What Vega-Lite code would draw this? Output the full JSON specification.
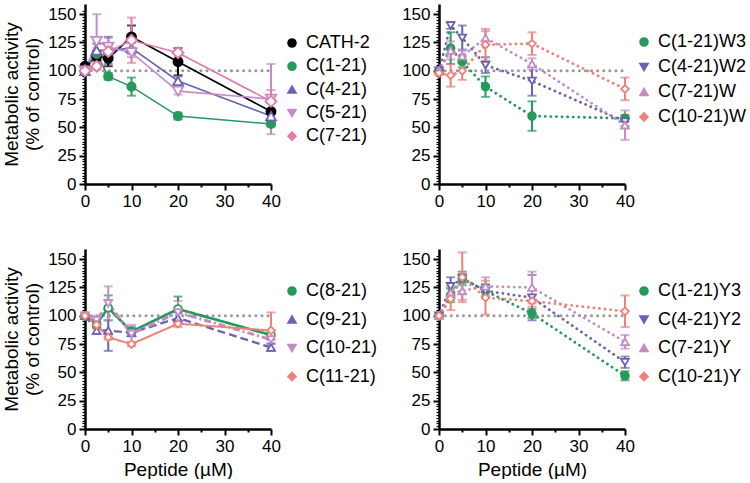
{
  "$schema": "https://vega.github.io/schema/vega-lite/v6.json",
  "padding": {"left": 2, "top": 2, "right": 0, "bottom": 0},
  "background": "white",
  "datasets": {
    "ref": [{"x": 0, "y": 100}, {"x": 40, "y": 100}],
    "d": [
      {"p":1,"s":"CATH-2","x":0,"y":104,"e":2},{"p":1,"s":"CATH-2","x":2.5,"y":113,"e":4},{"p":1,"s":"CATH-2","x":5,"y":111,"e":7},{"p":1,"s":"CATH-2","x":10,"y":130,"e":10},{"p":1,"s":"CATH-2","x":20,"y":108,"e":12},{"p":1,"s":"CATH-2","x":40,"y":64,"e":8},
      {"p":1,"s":"C(1-21)","x":0,"y":100,"e":1},{"p":1,"s":"C(1-21)","x":2.5,"y":115,"e":13},{"p":1,"s":"C(1-21)","x":5,"y":95,"e":3},{"p":1,"s":"C(1-21)","x":10,"y":86,"e":8},{"p":1,"s":"C(1-21)","x":20,"y":60,"e":3},{"p":1,"s":"C(1-21)","x":40,"y":53,"e":2},
      {"p":1,"s":"C(4-21)","x":0,"y":100,"e":1},{"p":1,"s":"C(4-21)","x":2.5,"y":118,"e":6},{"p":1,"s":"C(4-21)","x":5,"y":118,"e":12},{"p":1,"s":"C(4-21)","x":10,"y":120,"e":5},{"p":1,"s":"C(4-21)","x":20,"y":91,"e":4},{"p":1,"s":"C(4-21)","x":40,"y":60,"e":4},
      {"p":1,"s":"C(5-21)","x":0,"y":100,"e":1},{"p":1,"s":"C(5-21)","x":2.5,"y":126,"e":24},{"p":1,"s":"C(5-21)","x":5,"y":121,"e":8},{"p":1,"s":"C(5-21)","x":10,"y":116,"e":4},{"p":1,"s":"C(5-21)","x":20,"y":82,"e":3},{"p":1,"s":"C(5-21)","x":40,"y":75,"e":31},
      {"p":1,"s":"C(7-21)","x":0,"y":100,"e":1},{"p":1,"s":"C(7-21)","x":2.5,"y":104,"e":3},{"p":1,"s":"C(7-21)","x":5,"y":117,"e":5},{"p":1,"s":"C(7-21)","x":10,"y":127,"e":20},{"p":1,"s":"C(7-21)","x":20,"y":116,"e":4},{"p":1,"s":"C(7-21)","x":40,"y":73,"e":10},

      {"p":2,"s":"C(1-21)W3","x":0,"y":100,"e":1},{"p":2,"s":"C(1-21)W3","x":2.5,"y":120,"e":14},{"p":2,"s":"C(1-21)W3","x":5,"y":108,"e":5},{"p":2,"s":"C(1-21)W3","x":10,"y":86,"e":9},{"p":2,"s":"C(1-21)W3","x":20,"y":60,"e":13},{"p":2,"s":"C(1-21)W3","x":40,"y":58,"e":3},
      {"p":2,"s":"C(4-21)W2","x":0,"y":100,"e":1},{"p":2,"s":"C(4-21)W2","x":2.5,"y":140,"e":3},{"p":2,"s":"C(4-21)W2","x":5,"y":129,"e":11},{"p":2,"s":"C(4-21)W2","x":10,"y":105,"e":7},{"p":2,"s":"C(4-21)W2","x":20,"y":91,"e":13},{"p":2,"s":"C(4-21)W2","x":40,"y":55,"e":4},
      {"p":2,"s":"C(7-21)W","x":0,"y":100,"e":1},{"p":2,"s":"C(7-21)W","x":2.5,"y":118,"e":8},{"p":2,"s":"C(7-21)W","x":5,"y":113,"e":6},{"p":2,"s":"C(7-21)W","x":10,"y":129,"e":6},{"p":2,"s":"C(7-21)W","x":20,"y":106,"e":5},{"p":2,"s":"C(7-21)W","x":40,"y":52,"e":13},
      {"p":2,"s":"C(10-21)W","x":0,"y":98,"e":2},{"p":2,"s":"C(10-21)W","x":2.5,"y":96,"e":10},{"p":2,"s":"C(10-21)W","x":5,"y":100,"e":8},{"p":2,"s":"C(10-21)W","x":10,"y":123,"e":14},{"p":2,"s":"C(10-21)W","x":20,"y":124,"e":10},{"p":2,"s":"C(10-21)W","x":40,"y":84,"e":10},

      {"p":3,"s":"C(8-21)","x":0,"y":100,"e":1},{"p":3,"s":"C(8-21)","x":2.5,"y":93,"e":4},{"p":3,"s":"C(8-21)","x":5,"y":107,"e":11},{"p":3,"s":"C(8-21)","x":10,"y":86,"e":4},{"p":3,"s":"C(8-21)","x":20,"y":106,"e":11},{"p":3,"s":"C(8-21)","x":40,"y":83,"e":4},
      {"p":3,"s":"C(9-21)","x":0,"y":100,"e":1},{"p":3,"s":"C(9-21)","x":2.5,"y":87,"e":3},{"p":3,"s":"C(9-21)","x":5,"y":87,"e":18},{"p":3,"s":"C(9-21)","x":10,"y":85,"e":3},{"p":3,"s":"C(9-21)","x":20,"y":98,"e":5},{"p":3,"s":"C(9-21)","x":40,"y":72,"e":3},
      {"p":3,"s":"C(10-21)","x":0,"y":100,"e":1},{"p":3,"s":"C(10-21)","x":2.5,"y":96,"e":4},{"p":3,"s":"C(10-21)","x":5,"y":111,"e":15},{"p":3,"s":"C(10-21)","x":10,"y":84,"e":8},{"p":3,"s":"C(10-21)","x":20,"y":103,"e":10},{"p":3,"s":"C(10-21)","x":40,"y":79,"e":3},
      {"p":3,"s":"C(11-21)","x":0,"y":100,"e":1},{"p":3,"s":"C(11-21)","x":2.5,"y":92,"e":3},{"p":3,"s":"C(11-21)","x":5,"y":81,"e":2},{"p":3,"s":"C(11-21)","x":10,"y":75,"e":2},{"p":3,"s":"C(11-21)","x":20,"y":93,"e":3},{"p":3,"s":"C(11-21)","x":40,"y":87,"e":16},

      {"p":4,"s":"C(1-21)Y3","x":0,"y":100,"e":1},{"p":4,"s":"C(1-21)Y3","x":2.5,"y":118,"e":6},{"p":4,"s":"C(1-21)Y3","x":5,"y":133,"e":6},{"p":4,"s":"C(1-21)Y3","x":10,"y":122,"e":6},{"p":4,"s":"C(1-21)Y3","x":20,"y":102,"e":4},{"p":4,"s":"C(1-21)Y3","x":40,"y":47,"e":4},
      {"p":4,"s":"C(4-21)Y2","x":0,"y":100,"e":1},{"p":4,"s":"C(4-21)Y2","x":2.5,"y":126,"e":8},{"p":4,"s":"C(4-21)Y2","x":5,"y":133,"e":4},{"p":4,"s":"C(4-21)Y2","x":10,"y":122,"e":5},{"p":4,"s":"C(4-21)Y2","x":20,"y":116,"e":20},{"p":4,"s":"C(4-21)Y2","x":40,"y":59,"e":5},
      {"p":4,"s":"C(7-21)Y","x":0,"y":100,"e":1},{"p":4,"s":"C(7-21)Y","x":2.5,"y":120,"e":6},{"p":4,"s":"C(7-21)Y","x":5,"y":122,"e":8},{"p":4,"s":"C(7-21)Y","x":10,"y":126,"e":8},{"p":4,"s":"C(7-21)Y","x":20,"y":125,"e":14},{"p":4,"s":"C(7-21)Y","x":40,"y":77,"e":6},
      {"p":4,"s":"C(10-21)Y","x":0,"y":100,"e":1},{"p":4,"s":"C(10-21)Y","x":2.5,"y":115,"e":10},{"p":4,"s":"C(10-21)Y","x":5,"y":134,"e":22},{"p":4,"s":"C(10-21)Y","x":10,"y":116,"e":15},{"p":4,"s":"C(10-21)Y","x":20,"y":113,"e":5},{"p":4,"s":"C(10-21)Y","x":40,"y":104,"e":14}
    ]
  },
  "columns": 2,
  "spacing": {"row": 65, "column": 168},
  "bounds": "flush",
  "resolve": {"scale": {"x": "independent", "y": "independent", "color": "independent", "fill": "independent", "shape": "independent", "size": "independent", "strokeDash": "independent", "strokeWidth": "independent"}, "legend": {"color": "independent", "fill": "independent", "shape": "independent", "size": "independent", "strokeDash": "independent", "strokeWidth": "independent"}},
  "concat": [
    {
      "width": 186, "height": 180,
      "encoding": {
        "x": {"field": "x", "type": "quantitative", "title": null, "scale": {"domain": [0, 40], "nice": false, "zero": false}, "axis": {"title": null, "values": [0,5,10,15,20,25,30,35,40], "labelExpr": "datum.value % 10 === 0 ? datum.label : ''", "tickSize": {"condition": {"test": "datum.value % 10 === 0", "value": 6}, "value": 3}, "labelPadding": 3, "labelFlush": false, "labelOverlap": false}},
        "y": {"field": "y", "type": "quantitative", "title": ["Metabolic activity", "(% of control)"], "scale": {"domain": [0, 159], "nice": false}, "axis": {"title": ["Metabolic activity", "(% of control)"], "values": [0,2.5,5,7.5,10,12.5,15,17.5,20,22.5,25,27.5,30,32.5,35,37.5,40,42.5,45,47.5,50,52.5,55,57.5,60,62.5,65,67.5,70,72.5,75,77.5,80,82.5,85,87.5,90,92.5,95,97.5,100,102.5,105,107.5,110,112.5,115,117.5,120,122.5,125,127.5,130,132.5,135,137.5,140,142.5,145,147.5,150,152.5], "labelExpr": "datum.value % 25 === 0 ? datum.label : ''", "labelOverlap": false, "tickSize": {"condition": {"test": "datum.value % 25 === 0", "value": 6}, "value": 3}, "tickWidth": {"condition": {"test": "datum.value % 25 === 0", "value": 2}, "value": 1.2}, "labelPadding": 3, "titlePadding": 5}}
      },
      "layer": [
        {"data": {"name": "ref"}, "mark": {"type": "line", "color": "#9a9a9a", "strokeWidth": 3, "strokeDash": [0.1, 6], "strokeCap": "round"}},
        {"data": {"name": "d"}, "transform": [{"filter": "datum.p == 1"}], "mark": {"type": "line", "strokeWidth": 1.6},
         "encoding": {"color": {"field": "s", "type": "nominal", "scale": {"domain": ["CATH-2","C(1-21)","C(4-21)","C(5-21)","C(7-21)"], "range": ["#000000","#26995c","#6b62b5","#c48bc6","#e27aab"]}, "legend": {"title": null, "orient": "none", "legendX": 198, "legendY": 30, "rowPadding": 5.3, "labelOffset": 5, "symbolFillColor": "#ffffff", "encode": {"symbols": {"update": {"fill": {"signal": "datum.value === 'CATH-2' ? '#000000' : datum.value === 'C(1-21)' ? '#26995c' : '#ffffff'"}, "opacity": {"value": 1}, "fillOpacity": {"value": 1}}}}}}}},
        {"data": {"name": "d"}, "transform": [{"filter": "datum.p == 1"}], "mark": {"type": "errorbar", "ticks": {"size": 9, "thickness": 2}, "thickness": 2},
         "encoding": {"yError": {"field": "e"}, "color": {"field": "s", "type": "nominal"}}},
        {"data": {"name": "d"}, "transform": [{"filter": "datum.p == 1"}], "mark": {"type": "point", "strokeWidth": 1.8, "opacity": 1},
         "encoding": {
           "size": {"field": "s", "type": "nominal", "scale": {"domain": ["C(1-21)","CATH-2","C(4-21)","C(5-21)","C(7-21)"], "range": [70, 120, 55, 55, 60]}, "legend": null},
           "color": {"field": "s", "type": "nominal"},
           "shape": {"field": "s", "type": "nominal", "scale": {"domain": ["CATH-2","C(1-21)","C(4-21)","C(5-21)","C(7-21)"], "range": ["circle","circle","triangle-up","triangle-down","diamond"]}},
           "fill": {"field": "s", "type": "nominal", "scale": {"domain": ["CATH-2","C(1-21)","C(4-21)","C(5-21)","C(7-21)"], "range": ["#000000","#26995c","#ffffff","#ffffff","#ffffff"]}}}}
      ]
    },
    {
      "width": 186, "height": 180,
      "encoding": {
        "x": {"field": "x", "type": "quantitative", "title": null, "scale": {"domain": [0, 40], "nice": false, "zero": false}, "axis": {"title": null, "values": [0,5,10,15,20,25,30,35,40], "labelExpr": "datum.value % 10 === 0 ? datum.label : ''", "tickSize": {"condition": {"test": "datum.value % 10 === 0", "value": 6}, "value": 3}, "labelPadding": 3, "labelFlush": false, "labelOverlap": false}},
        "y": {"field": "y", "type": "quantitative", "title": null, "scale": {"domain": [0, 159], "nice": false}, "axis": {"title": null, "values": [0,2.5,5,7.5,10,12.5,15,17.5,20,22.5,25,27.5,30,32.5,35,37.5,40,42.5,45,47.5,50,52.5,55,57.5,60,62.5,65,67.5,70,72.5,75,77.5,80,82.5,85,87.5,90,92.5,95,97.5,100,102.5,105,107.5,110,112.5,115,117.5,120,122.5,125,127.5,130,132.5,135,137.5,140,142.5,145,147.5,150,152.5], "labelExpr": "datum.value % 25 === 0 ? datum.label : ''", "labelOverlap": false, "tickSize": {"condition": {"test": "datum.value % 25 === 0", "value": 6}, "value": 3}, "tickWidth": {"condition": {"test": "datum.value % 25 === 0", "value": 2}, "value": 1.2}, "labelPadding": 3}}
      },
      "layer": [
        {"data": {"name": "ref"}, "mark": {"type": "line", "color": "#9a9a9a", "strokeWidth": 3, "strokeDash": [0.1, 6], "strokeCap": "round"}},
        {"data": {"name": "d"}, "transform": [{"filter": "datum.p == 2"}], "mark": {"type": "line", "strokeWidth": 2.8, "strokeDash": [0.1, 5.5], "strokeCap": "round"},
         "encoding": {"color": {"field": "s", "type": "nominal", "scale": {"domain": ["C(1-21)W3","C(4-21)W2","C(7-21)W","C(10-21)W"], "range": ["#26995c","#6b62b5","#c48bc6","#ee8279"]}, "legend": {"title": null, "orient": "none", "legendX": 196, "legendY": 29, "rowPadding": 7, "labelOffset": 5, "symbolFillColor": "#ffffff", "encode": {"symbols": {"update": {"fill": {"signal": "datum.value === 'C(1-21)W3' ? '#26995c' : '#ffffff'"}, "opacity": {"value": 1}, "fillOpacity": {"value": 1}}}}}}}},
        {"data": {"name": "d"}, "transform": [{"filter": "datum.p == 2"}], "mark": {"type": "errorbar", "ticks": {"size": 9, "thickness": 2}, "thickness": 2},
         "encoding": {"yError": {"field": "e"}, "color": {"field": "s", "type": "nominal"}}},
        {"data": {"name": "d"}, "transform": [{"filter": "datum.p == 2"}], "mark": {"type": "point", "strokeWidth": 1.8, "opacity": 1, "size": 60},
         "encoding": {
           "color": {"field": "s", "type": "nominal"},
           "shape": {"field": "s", "type": "nominal", "scale": {"domain": ["C(1-21)W3","C(4-21)W2","C(7-21)W","C(10-21)W"], "range": ["circle","triangle-down","triangle-up","diamond"]}},
           "fill": {"field": "s", "type": "nominal", "scale": {"domain": ["C(1-21)W3","C(4-21)W2","C(7-21)W","C(10-21)W"], "range": ["#26995c","#ffffff","#ffffff","#ffffff"]}}}}
      ]
    },
    {
      "width": 186, "height": 180,
      "encoding": {
        "x": {"field": "x", "type": "quantitative", "title": "Peptide (µM)", "scale": {"domain": [0, 40], "nice": false, "zero": false}, "axis": {"title": "Peptide (µM)", "titlePadding": 6, "values": [0,5,10,15,20,25,30,35,40], "labelExpr": "datum.value % 10 === 0 ? datum.label : ''", "tickSize": {"condition": {"test": "datum.value % 10 === 0", "value": 6}, "value": 3}, "labelPadding": 3, "labelFlush": false, "labelOverlap": false}},
        "y": {"field": "y", "type": "quantitative", "title": ["Metabolic activity", "(% of control)"], "scale": {"domain": [0, 159], "nice": false}, "axis": {"title": ["Metabolic activity", "(% of control)"], "values": [0,2.5,5,7.5,10,12.5,15,17.5,20,22.5,25,27.5,30,32.5,35,37.5,40,42.5,45,47.5,50,52.5,55,57.5,60,62.5,65,67.5,70,72.5,75,77.5,80,82.5,85,87.5,90,92.5,95,97.5,100,102.5,105,107.5,110,112.5,115,117.5,120,122.5,125,127.5,130,132.5,135,137.5,140,142.5,145,147.5,150,152.5], "labelExpr": "datum.value % 25 === 0 ? datum.label : ''", "labelOverlap": false, "tickSize": {"condition": {"test": "datum.value % 25 === 0", "value": 6}, "value": 3}, "tickWidth": {"condition": {"test": "datum.value % 25 === 0", "value": 2}, "value": 1.2}, "labelPadding": 3, "titlePadding": 5}}
      },
      "layer": [
        {"data": {"name": "ref"}, "mark": {"type": "line", "color": "#9a9a9a", "strokeWidth": 3, "strokeDash": [0.1, 6], "strokeCap": "round"}},
        {"data": {"name": "d"}, "transform": [{"filter": "datum.p == 3"}], "mark": {"type": "line"},
         "encoding": {
           "color": {"field": "s", "type": "nominal", "scale": {"domain": ["C(8-21)","C(9-21)","C(10-21)","C(11-21)"], "range": ["#26995c","#6b62b5","#c48bc6","#ee8279"]}, "legend": {"title": null, "orient": "none", "legendX": 198, "legendY": 33, "rowPadding": 10.5, "labelOffset": 5, "symbolFillColor": "#ffffff", "encode": {"symbols": {"update": {"fill": {"value": "#ffffff"}, "opacity": {"value": 1}, "fillOpacity": {"value": 1}}}}}},
           "strokeDash": {"field": "s", "type": "nominal", "scale": {"domain": ["C(9-21)","C(8-21)","C(10-21)","C(11-21)"], "range": [[8,4],[1,0],[7,3,2,3],[1,0]]}, "legend": null},
           "strokeWidth": {"field": "s", "type": "nominal", "scale": {"domain": ["C(10-21)","C(8-21)","C(9-21)","C(11-21)"], "range": [3,2,3,2]}, "legend": null}}},
        {"data": {"name": "d"}, "transform": [{"filter": "datum.p == 3"}], "mark": {"type": "errorbar", "ticks": {"size": 9, "thickness": 2}, "thickness": 2},
         "encoding": {"yError": {"field": "e"}, "color": {"field": "s", "type": "nominal"}}},
        {"data": {"name": "d"}, "transform": [{"filter": "datum.p == 3"}], "mark": {"type": "point", "strokeWidth": 1.8, "opacity": 1, "size": 60},
         "encoding": {
           "color": {"field": "s", "type": "nominal"},
           "shape": {"field": "s", "type": "nominal", "scale": {"domain": ["C(8-21)","C(9-21)","C(10-21)","C(11-21)"], "range": ["circle","triangle-up","triangle-down","diamond"]}},
           "fill": {"field": "s", "type": "nominal", "scale": {"domain": ["C(8-21)","C(9-21)","C(10-21)","C(11-21)"], "range": ["#ffffff","#ffffff","#ffffff","#ffffff"]}}}}
      ]
    },
    {
      "width": 186, "height": 180,
      "encoding": {
        "x": {"field": "x", "type": "quantitative", "title": "Peptide (µM)", "scale": {"domain": [0, 40], "nice": false, "zero": false}, "axis": {"title": "Peptide (µM)", "titlePadding": 6, "values": [0,5,10,15,20,25,30,35,40], "labelExpr": "datum.value % 10 === 0 ? datum.label : ''", "tickSize": {"condition": {"test": "datum.value % 10 === 0", "value": 6}, "value": 3}, "labelPadding": 3, "labelFlush": false, "labelOverlap": false}},
        "y": {"field": "y", "type": "quantitative", "title": null, "scale": {"domain": [0, 159], "nice": false}, "axis": {"title": null, "values": [0,2.5,5,7.5,10,12.5,15,17.5,20,22.5,25,27.5,30,32.5,35,37.5,40,42.5,45,47.5,50,52.5,55,57.5,60,62.5,65,67.5,70,72.5,75,77.5,80,82.5,85,87.5,90,92.5,95,97.5,100,102.5,105,107.5,110,112.5,115,117.5,120,122.5,125,127.5,130,132.5,135,137.5,140,142.5,145,147.5,150,152.5], "labelExpr": "datum.value % 25 === 0 ? datum.label : ''", "labelOverlap": false, "tickSize": {"condition": {"test": "datum.value % 25 === 0", "value": 6}, "value": 3}, "tickWidth": {"condition": {"test": "datum.value % 25 === 0", "value": 2}, "value": 1.2}, "labelPadding": 3}}
      },
      "layer": [
        {"data": {"name": "ref"}, "mark": {"type": "line", "color": "#9a9a9a", "strokeWidth": 3, "strokeDash": [0.1, 6], "strokeCap": "round"}},
        {"data": {"name": "d"}, "transform": [{"filter": "datum.p == 4"}], "mark": {"type": "line", "strokeWidth": 2.8, "strokeDash": [0.1, 5.5], "strokeCap": "round"},
         "encoding": {"color": {"field": "s", "type": "nominal", "scale": {"domain": ["C(1-21)Y3","C(4-21)Y2","C(7-21)Y","C(10-21)Y"], "range": ["#26995c","#6b62b5","#c48bc6","#ee8279"]}, "legend": {"title": null, "orient": "none", "legendX": 196, "legendY": 33, "rowPadding": 10.5, "labelOffset": 5, "symbolFillColor": "#ffffff", "encode": {"symbols": {"update": {"fill": {"signal": "datum.value === 'C(1-21)Y3' ? '#26995c' : '#ffffff'"}, "opacity": {"value": 1}, "fillOpacity": {"value": 1}}}}}}}},
        {"data": {"name": "d"}, "transform": [{"filter": "datum.p == 4"}], "mark": {"type": "errorbar", "ticks": {"size": 9, "thickness": 2}, "thickness": 2},
         "encoding": {"yError": {"field": "e"}, "color": {"field": "s", "type": "nominal"}}},
        {"data": {"name": "d"}, "transform": [{"filter": "datum.p == 4"}], "mark": {"type": "point", "strokeWidth": 1.8, "opacity": 1, "size": 60},
         "encoding": {
           "color": {"field": "s", "type": "nominal"},
           "shape": {"field": "s", "type": "nominal", "scale": {"domain": ["C(1-21)Y3","C(4-21)Y2","C(7-21)Y","C(10-21)Y"], "range": ["circle","triangle-down","triangle-up","diamond"]}},
           "fill": {"field": "s", "type": "nominal", "scale": {"domain": ["C(1-21)Y3","C(4-21)Y2","C(7-21)Y","C(10-21)Y"], "range": ["#26995c","#ffffff","#ffffff","#ffffff"]}}}}
      ]
    }
  ],
  "config": {
    "view": {"stroke": null},
    "font": "Liberation Sans",
    "axis": {"grid": false, "domainColor": "#000000", "domainWidth": 2.5, "tickColor": "#000000", "tickWidth": 2, "labelColor": "#000000", "labelFontSize": 17, "labelFont": "Liberation Sans", "titleFont": "Liberation Sans", "titleFontSize": 19, "titleFontWeight": "normal", "titleColor": "#000000", "titleLineHeight": 21},
    "legend": {"padding": 0, "labelFontSize": 18, "labelFont": "Liberation Sans", "labelColor": "#000000", "symbolSize": 60, "symbolStrokeWidth": 1.8, "labelOffset": 5}
  }
}
